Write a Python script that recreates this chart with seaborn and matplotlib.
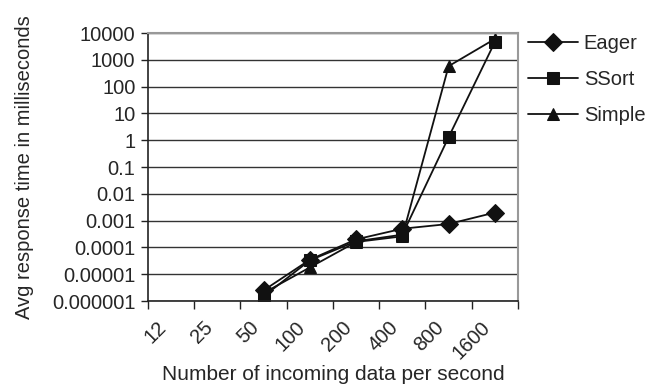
import matplotlib
matplotlib.use("Agg")
import matplotlib.pyplot as plt
import matplotlib.transforms as mtransforms
import numpy as np
import pandas as pd
import seaborn as sns

# x categories (all tick labels) and the ones that carry data
categories = ["12", "25", "50", "100", "200", "400", "800", "1600"]
rates = ["50", "100", "200", "400", "800", "1600"]

eager = [2.5e-6, 3.5e-5, 2.0e-4, 5.0e-4, 7.5e-4, 2.0e-3]
ssort = [1.5e-6, 3.3e-5, 1.7e-4, 3.0e-4, 1.3, 4600]
simple = [2.0e-6, 1.8e-5, 1.6e-4, 2.6e-4, 580, 6000]

series_names = ["Eager", "SSort", "Simple"]

sns.set_style("white")
plt.rcParams["font.family"] = ["Liberation Sans", "DejaVu Sans"]

frames = []
for name, vals in zip(series_names, [eager, ssort, simple]):
    frames.append(pd.DataFrame({
        "pos": [categories.index(r) for r in rates],
        "value": vals,
        "series": name,
    }))
df = pd.concat(frames, ignore_index=True)

fig = plt.figure(figsize=(6.56, 3.84), dpi=100)
ax = fig.add_axes([0.2256, 0.216, 0.5640, 0.698])

sns.lineplot(
    data=df, x="pos", y="value", hue="series", style="series",
    hue_order=series_names, style_order=series_names,
    palette=["#111111"] * 3,
    markers={"Eager": "D", "SSort": "s", "Simple": "^"},
    dashes=False, markersize=9, linewidth=1.3,
    markeredgecolor="#111111", ax=ax,
)

ax.set_yscale("log")
ax.set_ylim(1e-6, 1e4)
yticks = [1e-6, 1e-5, 1e-4, 1e-3, 1e-2, 1e-1, 1, 10, 100, 1000, 10000]
ax.set_yticks(yticks)
ax.set_yticklabels(["0.000001", "0.00001", "0.0001", "0.001", "0.01", "0.1",
                    "1", "10", "100", "1000", "10000"], fontsize=14.5)
ax.yaxis.set_minor_locator(matplotlib.ticker.NullLocator())
ax.grid(axis="y", color="#333333", linewidth=1.0)

# category boundaries as ticks, labels centred in each category
ax.set_xlim(-0.5, len(categories) - 0.5)
ax.set_xticks(np.arange(len(categories) + 1) - 0.5)
ax.set_xticklabels([])
ax.set_xticks(np.arange(len(categories)), minor=True)
ax.set_xticklabels(categories, minor=True, rotation=45, ha="right", va="top",
                   rotation_mode="anchor", fontsize=14.5)
ax.tick_params(axis="x", which="major", direction="out", length=6, width=1,
               color="#222222", bottom=True)
ax.tick_params(axis="x", which="minor", length=0, pad=12)
ax.tick_params(axis="y", direction="out", length=5, width=1, color="#222222",
               left=True, pad=4)
shift = mtransforms.ScaledTranslation(-0.14, 0.0, fig.dpi_scale_trans)
for lbl in ax.get_xticklabels(minor=True):
    lbl.set_transform(lbl.get_transform() + shift)

for side in ["top", "right"]:
    ax.spines[side].set_visible(True)
    ax.spines[side].set_color("#999999")
    ax.spines[side].set_linewidth(1.5)
for side in ["left", "bottom"]:
    ax.spines[side].set_color("#222222")
    ax.spines[side].set_linewidth(1.2)

ax.set_xlabel("Number of incoming data per second", fontsize=15, labelpad=2)
ax.set_ylabel("Avg response time in milliseconds", fontsize=14.5, labelpad=13)

leg = ax.legend(loc="upper left", bbox_to_anchor=(0.99, 1.05), frameon=False,
                fontsize=14.5, handlelength=2.45, handletextpad=0.3,
                labelspacing=0.85, borderaxespad=0.3)
for h in leg.legend_handles:
    h.set_color("#111111")

fig.savefig("out.png", dpi=100, facecolor="white")
